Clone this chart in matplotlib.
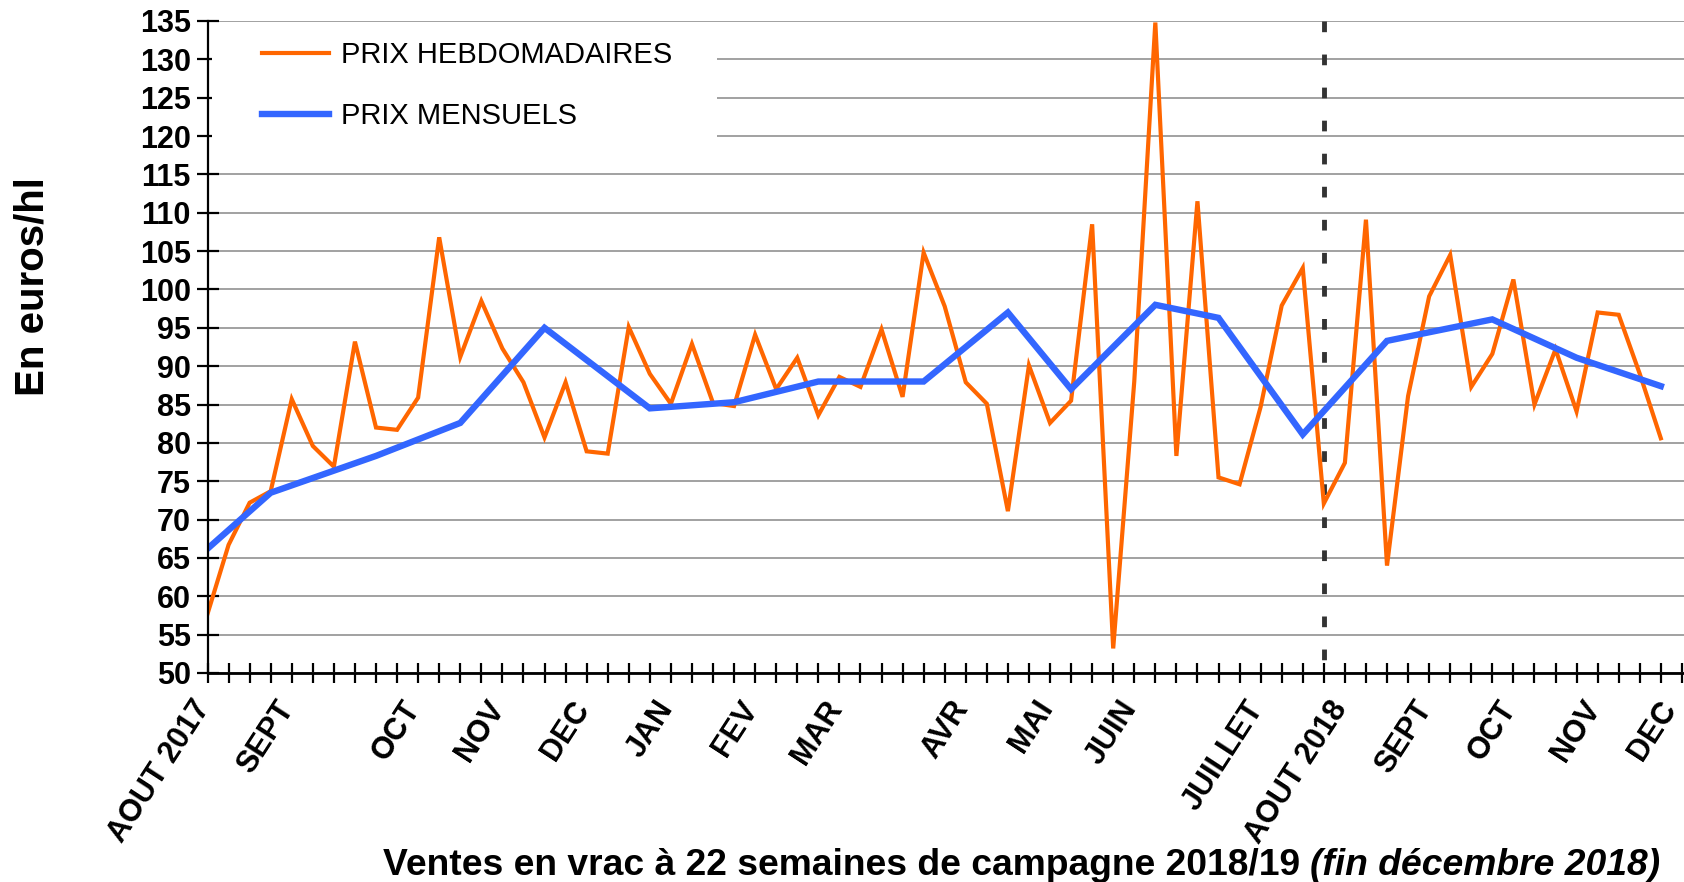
import matplotlib
matplotlib.use('Agg')
import matplotlib.pyplot as plt
import matplotlib.transforms as mtransforms
from matplotlib.patches import Rectangle

# ---------------- data ----------------
weekly_prices = [57.7, 66.7, 72.2, 73.7, 85.7, 79.6, 76.9, 93.2, 82.0, 81.7,
                 85.9, 106.8, 91.2, 98.5, 92.3, 87.9, 80.7, 87.9, 78.9, 78.6,
                 95.1, 89.0, 85.1, 92.9, 85.2, 84.8, 94.1, 87.0, 91.1, 83.6,
                 88.6, 87.3, 94.8, 86.0, 104.8, 97.8, 87.9, 85.1, 71.1, 90.1,
                 82.6, 85.5, 108.5, 53.2, 88.0, 134.8, 78.3, 111.5, 75.5, 74.6,
                 84.7, 97.9, 102.8, 72.1, 77.4, 109.1, 64.0, 86.1, 99.1, 104.5,
                 87.3, 91.6, 101.3, 85.0, 92.2, 84.1, 97.0, 96.7, 89.0, 80.6]
monthly_weeks = [0, 3, 8, 12, 16, 21, 25, 29, 34, 38, 41, 45, 48, 52, 56, 61, 65, 69]
monthly_prices = [66.2, 73.5, 78.3, 82.6, 95.0, 84.5, 85.3, 88.0, 88.0, 97.0,
                  87.0, 98.0, 96.3, 81.1, 93.3, 96.1, 91.1, 87.4]
month_label_weeks = [0, 4, 10, 14, 18, 22, 26, 30, 36, 40, 44, 50, 54, 58, 62, 66, 70]
month_labels = ['AOUT 2017', 'SEPT', 'OCT', 'NOV', 'DEC', 'JAN', 'FEV', 'MAR',
                'AVR', 'MAI', 'JUIN', 'JUILLET', 'AOUT 2018', 'SEPT', 'OCT',
                'NOV', 'DEC']
n_axis_weeks = 71
campaign_start_week = 53
y_ticks = list(range(50, 136, 5))
series_names = ['PRIX HEBDOMADAIRES', 'PRIX MENSUELS']
y_title = 'En euros/hl'
x_title_main = 'Ventes en vrac à 22 semaines de campagne 2018/19 '
x_title_italic = '(fin décembre 2018)'

# ---------------- figure ----------------
plt.rcParams['font.family'] = ['Liberation Sans', 'DejaVu Sans']
W, H = 1684, 882
fig = plt.figure(figsize=(W / 100, H / 100), dpi=100)
ax = fig.add_axes([207.5 / W, (H - 673) / H, (W - 207.5) / W, 652 / H])

ax.set_xlim(0, 70.1)
ax.set_ylim(50, 135)

# gridlines
ax.set_axisbelow(True)
ax.yaxis.grid(True, color='#9a9a9a', lw=1.3)
ax.xaxis.grid(False)

# white legend area hiding some gridlines
ax.add_patch(Rectangle((0.2, 116.8), 24.0, 16.5, facecolor='white',
                       edgecolor='none', zorder=1.5))

# series
x_weeks = list(range(len(weekly_prices)))
ax.plot(x_weeks, weekly_prices, color='#FF6600', lw=3.0, zorder=3,
        solid_joinstyle='miter', label=series_names[0])
ax.plot(monthly_weeks, monthly_prices, color='#3366FF', lw=4.6, zorder=4,
        solid_joinstyle='miter', label=series_names[1])

# campaign separator (drawn top -> bottom so the dash pattern starts at the top)
ax.plot([campaign_start_week, campaign_start_week], [135, 50],
        color='#333333', lw=3.5, ls=(0, (2.2, 4.6)),
        dash_capstyle='butt', zorder=2.5, clip_on=False)

# axes styling
for s in ['top', 'right']:
    ax.spines[s].set_visible(False)
ax.spines['left'].set_linewidth(1.6)
ax.spines['bottom'].set_linewidth(2.0)
ax.spines['left'].set_zorder(5)
ax.spines['bottom'].set_zorder(5)

ax.set_yticks(y_ticks)
ax.set_yticklabels([str(v) for v in y_ticks], fontsize=22, fontweight='bold')
ax.tick_params(axis='y', direction='inout', length=16, width=1.6, pad=4)

labels_all = [''] * n_axis_weeks
for w, lab in zip(month_label_weeks, month_labels):
    labels_all[w] = lab
ax.set_xticks(range(n_axis_weeks))
ax.set_xticklabels(labels_all, rotation=57, ha='right', va='baseline',
                   rotation_mode='anchor', fontsize=22, fontweight='bold')
ax.tick_params(axis='x', direction='inout', length=14, width=1.6, pad=18)

# shift labels a touch right like the reference, keep the last one inside
xt_labels = ax.get_xticklabels()
for i, t in enumerate(xt_labels):
    dx = 3 if i < n_axis_weeks - 1 else -5
    t.set_transform(t.get_transform() +
                    mtransforms.ScaledTranslation(dx / 100, 0, fig.dpi_scale_trans))

# legend
leg = ax.legend(loc='upper left', bbox_to_anchor=(0.037, 0.969), frameon=False,
                fontsize=21, handlelength=2.3, handletextpad=0.42,
                labelspacing=1.12, borderpad=0, borderaxespad=0)
for t in leg.get_texts():
    t.set_color('black')

# axis titles
fig.text(33 / W, (H - 287) / H, y_title, rotation=90, ha='center', va='center',
         fontsize=29, fontweight='bold')

t1 = fig.text(383 / W, (H - 875) / H, x_title_main, ha='left', va='baseline',
              fontsize=26.8, fontweight='bold')
fig.canvas.draw()
bb = t1.get_window_extent(renderer=fig.canvas.get_renderer())
fig.text(bb.x1 / W, (H - 875) / H, x_title_italic, ha='left', va='baseline',
         fontsize=26.8, fontweight='bold', style='italic')

fig.savefig('out.png', dpi=100)
